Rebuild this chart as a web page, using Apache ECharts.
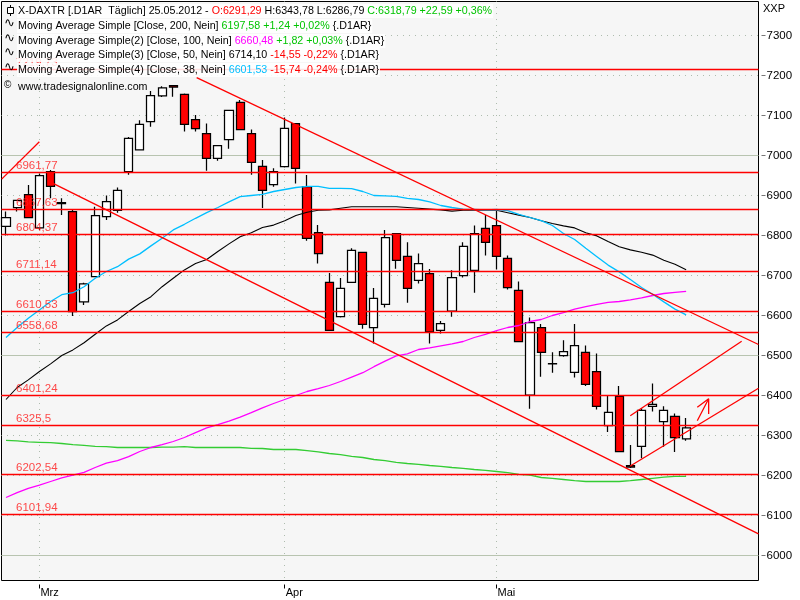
<!DOCTYPE html>
<html>
<head>
<meta charset="utf-8">
<style>html,body{margin:0;padding:0;background:#fff}#c{width:800px;height:600px}</style>
<script src="https://cdn.jsdelivr.net/npm/echarts@6/dist/echarts.min.js"></script>
</head>
<body>
<div id="c"></div>
<script>
const opens = [6823,6870,6902,6819,6960,6882,6860,6634,6697,6847,6863,6960,7014,7085,7149,7175,7153,7090,7055,6993,7040,7133,7055,6973,6927,6972,7080,6922,6807,6683,6597,6683,6758,6570,6628,6805,6748,6688,6705,6563,6611,6700,6713,6818,6825,6743,6663,6401,6570,6480,6500,6458,6508,6460,6325,6398,6225,6273,6373,6335,6348,6291.29];
const closes = [6845,6888,6845,6950,6923,6880,6610,6679,6850,6885,6913,7043,7078,7150,7169,7171,7078,7067,6993,7025,7113,7065,6983,6913,6960,7068,6968,6793,6755,6563,6668,6763,6578,6643,6795,6738,6668,6730,6559,6580,6695,6773,6805,6783,6748,6670,6535,6582,6508,6479,6510,6525,6428,6373,6358,6260,6221,6363,6378,6363,6295,6318.79];
const lows = [6800,6860,6845,6814,6893,6851,6599,6626,6697,6839,6857,6952,7014,7072,7146,7147,7060,7060,6962,6987,7017,7065,6952,6869,6922,6970,6930,6787,6730,6563,6595,6683,6567,6530,6620,6717,6632,6680,6530,6555,6597,6695,6657,6750,6715,6665,6535,6367,6447,6457,6497,6445,6424,6365,6309,6260,6219,6243,6360,6272,6259,6286.79];
const highs = [6860,6888,6926,6955,6964,6893,6865,6682,6872,6900,6920,7046,7088,7161,7173,7176,7155,7101,7080,7025,7113,7139,7065,6989,6968,7095,7080,6951,6826,6706,6694,6768,6758,6669,6814,6805,6783,6755,6716,6586,6713,6783,6825,6851,6861,6750,6685,6595,6579,6508,6538,6579,6525,6505,6399,6424,6276,6368,6430,6373,6355,6343.78];

const ma38 = [6545,6570,6593,6614,6635,6652,6657,6672,6693,6710,6722,6741,6754,6774,6793,6814,6828,6843,6857,6870,6884,6897,6900,6903,6910,6915,6920,6923,6923,6918,6918,6917,6910,6900,6899,6898,6893,6890,6884,6875,6870,6866,6865,6864,6865,6862,6853,6845,6837,6825,6805,6790,6768,6747,6726,6709,6690,6670,6653,6634,6616,6601.53];
const ma50 = [6390,6420,6439,6460,6479,6500,6514,6532,6553,6574,6589,6610,6630,6647,6672,6693,6714,6730,6740,6760,6779,6797,6807,6820,6826,6837,6850,6858,6863,6864,6868,6872,6872,6872,6872,6872,6870,6868,6866,6864,6861,6863,6864,6863,6863,6857,6851,6845,6837,6830,6824,6819,6807,6799,6785,6772,6764,6758,6751,6738,6728,6714.10];
const ma100 = [6145,6157,6168,6176,6185,6194,6201,6208,6220,6231,6237,6247,6260,6270,6277,6285,6295,6307,6319,6327,6336,6346,6357,6369,6380,6390,6400,6410,6417,6425,6435,6446,6457,6472,6486,6499,6504,6515,6519,6524,6529,6535,6545,6553,6562,6570,6575,6585,6590,6600,6607,6616,6622,6628,6633,6635,6639,6644,6650,6655,6658,6660.48];
const ma200 = [6288,6286.5,6284,6283,6282,6280,6277,6275.5,6273,6272,6270,6270,6270,6270,6271,6271,6272,6270,6270,6270,6270,6270,6268,6267.5,6265,6265,6265,6262,6259,6255,6252,6248,6245,6240,6237,6233,6230,6228,6225,6223,6220,6218,6215,6213,6210,6207,6203,6201,6195,6193,6190,6187,6185,6185,6185,6185,6187,6190,6193,6196,6198,6197.58];

const levelValues = [7215,6957.5,6865,6802.5,6710,6610,6557.5,6400,6325,6202.5,6102.5];
const levelLabels = ['7219,73','6961,77','6867,63','6804,37','6711,14','6610,53','6558,68','6401,24','6325,5','6202,54','6101,94'];
const majorGrid = [7000,6500,6000];
const yTicks = [7300,7200,7100,7000,6900,6800,6700,6600,6500,6400,6300,6200,6100,6000];
const monthIdx = [3,25,44];
const monthNames = ['Mrz','Apr','Mai'];

const trendUpper = [[17.10,7194.5],[67.49,6527.5]];
const trendLower = [[3.95,6934],[67.49,6054]];
const channelLow = [[55.99,6223.75],[67.49,6418]];
const channelHigh = [[55.99,6349.5],[65.98,6535.5]];
const shortTrend = [[-0.39,6941],[2.99,7034.5]];
const arrowShaft = [[62,6337],[63.02,6392],[63.02,6354]];
const arrowHead = [[62,6370.5],[63.02,6392]];

const X_MIN = -0.4036, X_MAX = 67.49, Y_MIN = 5937.5, Y_MAX = 7385;
const FONT = '"Liberation Sans", Arial, sans-serif';
const RED = '#ff0000', GREEN = '#00c400', MAG = '#ff00ff', CYAN = '#00bfff', LIME = '#33cc33';

function indexed(a){ return a.map((v,i)=>[i,v]); }
function lineSeries(name,data,color,z,width){
  return {type:'line',name,data,symbol:'none',silent:true,z:z,animation:false,
    lineStyle:{color,width:width||1.3,cap:'butt'}};
}

const series = [];
series.push(...majorGrid.map(v=>lineSeries('grid'+v,[[X_MIN,v],[X_MAX,v]],'#b8c4b0',1,1)));
series.push({
  type:'candlestick',name:'X-DAXTR',z:2,animation:false,barWidth:8.6,
  encode:{x:0,y:[1,2,3,4]},
  data:opens.map((o,i)=>[i,o,closes[i],lows[i],highs[i]]),
  itemStyle:{color:'#ffffff',color0:RED,borderColor:'#000',borderColor0:'#000',borderWidth:1.25}
});
series.push(lineSeries('MA200',indexed(ma200),LIME,3));
series.push(lineSeries('MA100',indexed(ma100),MAG,3));
series.push(lineSeries('MA50',indexed(ma50),'#000000',3,1.1));
series.push(lineSeries('MA38',indexed(ma38),CYAN,3));
series.push(...levelValues.map((v,i)=>lineSeries('level'+i,[[X_MIN,v],[X_MAX,v]],RED,4,1.3)));
series.push(lineSeries('trendUpper',trendUpper,RED,4));
series.push(lineSeries('trendLower',trendLower,RED,4));
series.push(lineSeries('channelLow',channelLow,RED,4));
series.push(lineSeries('channelHigh',channelHigh,RED,4));
series.push(lineSeries('shortTrend',shortTrend,RED,4));
series.push(lineSeries('arrowShaft',arrowShaft,RED,4));
series.push(lineSeries('arrowHead',arrowHead,RED,4));
series.push({
  type:'scatter',name:'levelLabels',z:5,animation:false,silent:true,symbolSize:0,
  data:levelValues.map((v,i)=>({value:[0.9,v],label:{formatter:levelLabels[i]}})),
  label:{show:true,position:'right',distance:0,offset:[0,-7],color:'#ff1a1a',fontFamily:FONT,fontSize:11.5}
});

const richBase = {fontFamily:FONT,fontSize:10.7,lineHeight:14,height:14};
const rich = {
  k:Object.assign({color:'#000'},richBase),
  r:Object.assign({color:'#ff0000'},richBase),
  g:Object.assign({color:GREEN},richBase),
  m:Object.assign({color:MAG},richBase),
  c:Object.assign({color:CYAN},richBase)
};
function row(top,text,bg){
  return {left:17,top:top,padding:[0,1,0,1],z:10,backgroundColor:bg===false?'transparent':'rgba(255,255,255,0.88)',
    text:text,textStyle:{rich:rich,fontFamily:FONT,fontSize:10.7,fontWeight:'normal',color:'#000'}};
}
const titles = [
  row(4,'{k|X-DAXTR [.D1AR  Täglich] 25.05.2012 - }{r|O:6291,29}{k| H:6343,78 L:6286,79 }{g|C:6318,79 +22,59 +0,36%}'),
  row(19,'{k|Moving Average Simple [Close, 200, Nein] }{g|6197,58 +1,24 +0,02%}{k| {.D1AR}}'),
  row(34,'{k|Moving Average Simple(2) [Close, 100, Nein] }{m|6660,48}{g| +1,82 +0,03%}{k| {.D1AR}}'),
  row(48,'{k|Moving Average Simple(3) [Close, 50, Nein] 6714,10}{r| -14,55 -0,22%}{k| {.D1AR}}'),
  row(63,'{k|Moving Average Simple(4) [Close, 38, Nein] }{c|6601,53}{r| -15,74 -0,24%}{k| {.D1AR}}'),
  row(80,'{k|www.tradesignalonline.com}',false)
];
titles.push({left:763,top:3,padding:0,text:'XXP',textStyle:{fontFamily:FONT,fontSize:11,fontWeight:'normal',color:'#000'}});

const waveRows = [25,40,54,69];
const graphic = [
  {type:'line',z:11,shape:{x1:10.5,y1:5,x2:10.5,y2:16},style:{stroke:'#000',lineWidth:1}},
  {type:'rect',z:12,shape:{x:7.5,y:7.5,width:6,height:6},style:{fill:'#fff',stroke:'#000',lineWidth:1}}
].concat(waveRows.map(y=>({type:'text',z:11,left:4,top:y-8,style:{text:'∿',font:'13px "DejaVu Sans"',fill:'#000'}})))
 .concat([{type:'text',z:11,left:4,top:80,style:{text:'©',font:'10px "Liberation Sans"',fill:'#000'}}]);

const chart = echarts.init(document.getElementById('c'),null,{renderer:'canvas'});
chart.setOption({
  animation:false,
  backgroundColor:'#ffffff',
  title:titles,
  graphic:graphic,
  tooltip:{show:false},
  grid:{left:1.5,top:1.5,width:757,height:579,show:true,backgroundColor:'#f6f6f6',borderColor:'#000',borderWidth:1,containLabel:false,z:0},
  xAxis:{
    type:'value',min:X_MIN,max:X_MAX,offset:4,
    axisLine:{show:false,onZero:false},
    axisTick:{show:true,length:4,customValues:monthIdx,lineStyle:{color:'#000'}},
    axisLabel:{show:true,customValues:monthIdx,margin:3,align:'left',padding:[0,0,0,1],color:'#000',fontFamily:FONT,fontSize:11,
      formatter:v=>monthNames[monthIdx.indexOf(v)]||''},
    splitLine:{show:true,lineStyle:{color:'#aebcae',type:[1,5],dashOffset:0.5,width:1}}
  },
  yAxis:{
    type:'value',position:'right',min:Y_MIN,max:Y_MAX,offset:3,
    axisLine:{show:false,onZero:false},
    axisTick:{show:true,length:4,customValues:yTicks,lineStyle:{color:'#777'}},
    axisLabel:{show:true,customValues:yTicks,margin:5,padding:[4,0,0,0],color:'#000',fontFamily:FONT,fontSize:11.5,formatter:v=>String(v)},
    splitLine:{show:true,lineStyle:{color:'#aebcae',type:[1,5],dashOffset:0.5,width:1}}
  },
  series:series
});
</script>
</body>
</html>
